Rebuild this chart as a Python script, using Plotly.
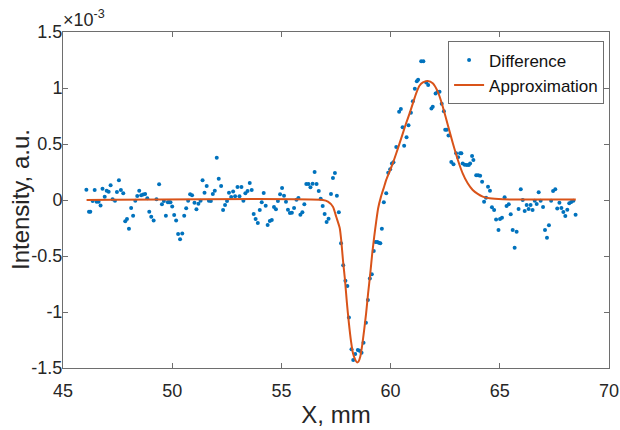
import plotly.graph_objects as go

# Measured difference signal (x in mm, intensity in units of 1e-3 a.u.)
diff_x = [46.07, 46.19, 46.25, 46.36, 46.45, 46.54, 46.63, 46.72, 46.81, 46.91,
          47.00, 47.09, 47.18, 47.27, 47.38, 47.47, 47.56, 47.65, 47.76, 47.85,
          47.93, 48.02, 48.12, 48.21, 48.31, 48.40, 48.49, 48.58, 48.67, 48.76,
          48.86, 48.95, 49.04, 49.15, 49.28, 49.40, 49.53, 49.62, 49.71, 49.80,
          49.86, 49.92, 50.00, 50.09, 50.18, 50.27, 50.36, 50.46, 50.55, 50.64,
          50.73, 50.82, 50.91, 51.02, 51.11, 51.20, 51.30, 51.39, 51.48, 51.58,
          51.68, 51.77, 51.86, 51.95, 52.04, 52.13, 52.24, 52.33, 52.42, 52.51,
          52.60, 52.70, 52.79, 52.88, 52.99, 53.08, 53.17, 53.26, 53.35, 53.45,
          53.55, 53.64, 53.73, 53.82, 53.92, 54.01, 54.10, 54.19, 54.28, 54.37,
          54.47, 54.56, 54.66, 54.75, 54.84, 54.94, 55.03, 55.12, 55.21, 55.30,
          55.39, 55.48, 55.58, 55.69, 55.78, 55.87, 55.96, 56.05, 56.14, 56.24,
          56.33, 56.43, 56.52, 56.61, 56.71, 56.80, 56.89, 56.98, 57.07, 57.16,
          57.27, 57.36, 57.45, 57.54, 57.63, 57.73, 57.83, 57.93, 58.02, 58.09,
          58.21, 58.29, 58.38, 58.50, 58.58, 58.67, 58.76, 58.87, 58.96, 59.05,
          59.14, 59.23, 59.31, 59.39, 59.46, 59.53, 59.60, 59.69, 59.80, 59.89,
          59.98, 60.06, 60.13, 60.26, 60.39, 60.47, 60.55, 60.62, 60.73, 60.82,
          60.93, 61.02, 61.11, 61.20, 61.26, 61.40, 61.50, 61.63, 61.72, 61.87,
          61.93, 62.06, 62.15, 62.24, 62.34, 62.44, 62.50, 62.57, 62.65, 62.78,
          62.88, 63.00, 63.09, 63.18, 63.24, 63.30, 63.39, 63.49, 63.58, 63.64,
          63.73, 63.79, 63.92, 64.01, 64.10, 64.19, 64.28, 64.37, 64.46, 64.55,
          64.64, 64.74, 64.83, 64.94, 65.01, 65.10, 65.22, 65.31, 65.41, 65.50,
          65.59, 65.68, 65.77, 65.86, 65.96, 66.05, 66.14, 66.23, 66.32, 66.41,
          66.50, 66.60, 66.69, 66.78, 66.87, 66.98, 67.07, 67.16, 67.25, 67.35,
          67.44, 67.54, 67.63, 67.73, 67.82, 67.91, 68.00, 68.09, 68.18, 68.27,
          68.37, 68.47]
diff_y = [0.092, -0.104, -0.104, -0.009, 0.089, -0.015, -0.015, -0.048, 0.101, 0.030,
          0.083, 0.074, 0.131, 0.006, -0.006, 0.071, 0.176, 0.089, 0.060, -0.190,
          -0.170, -0.256, -0.071, -0.140, -0.006, 0.036, 0.083, 0.042, 0.048, 0.054,
          0.015, -0.104, -0.149, -0.182, 0.006, 0.140, -0.038, -0.009, -0.140, -0.021,
          -0.021, -0.021, -0.057, -0.134, -0.182, -0.304, -0.351, -0.298, -0.140, -0.074,
          -0.006, 0.051, 0.042, -0.024, -0.083, -0.033, -0.006, 0.176, 0.065, 0.125,
          -0.006, -0.009, 0.054, 0.083, 0.378, 0.190, 0.125, -0.089, -0.045, -0.009,
          0.065, 0.027, 0.077, 0.033, 0.116, 0.033, 0.116, -0.006, 0.060, 0.080,
          0.152, 0.089, -0.125, -0.170, -0.205, -0.089, -0.021, 0.063, -0.051, -0.223,
          -0.188, -0.179, -0.063, -0.083, -0.009, 0.051, 0.107, 0.039, -0.015, -0.086,
          -0.116, -0.113, -0.071, 0.003, 0.018, -0.131, -0.110, -0.039, 0.143, 0.143,
          0.113, 0.146, 0.250, 0.143, 0.080, 0.012, -0.054, -0.125, -0.196, -0.167,
          0.054, 0.196, 0.241, 0.039, -0.110, -0.387, -0.583, -0.720, -0.768, -1.048,
          -1.333, -1.429, -1.375, -1.339, -1.345, -1.363, -1.274, -1.095, -0.893, -0.702,
          -0.664, -0.455, -0.375, -0.375, -0.381, -0.387, -0.256, -0.021, 0.060, 0.244,
          0.274, 0.327, 0.336, 0.473, 0.789, 0.813, 0.649, 0.485, 0.560, 0.667,
          0.780, 0.881, 0.994, 1.060, 1.074, 1.238, 1.238, 1.048, 1.027, 0.818,
          0.833, 0.952, 0.967, 0.967, 0.860, 0.792, 0.628, 0.628, 0.577, 0.340,
          0.320, 0.417, 0.381, 0.417, 0.417, 0.327, 0.315, 0.312, 0.312, 0.327,
          0.393, 0.357, 0.221, 0.221, 0.217, 0.164, -0.015, 0.021, 0.119, 0.083,
          -0.065, -0.089, -0.173, -0.268, -0.170, -0.158, 0.024, -0.054, -0.039, -0.128,
          -0.268, -0.426, -0.283, -0.080, 0.095, 0.000, -0.098, -0.045, -0.080, -0.045,
          -0.089, -0.006, -0.036, 0.069, -0.006, -0.063, -0.268, -0.336, -0.226, -0.006,
          0.080, 0.095, -0.077, -0.024, -0.071, -0.107, -0.143, -0.086, -0.030, -0.018,
          -0.006, -0.131]

# Approximation curve
approx_x = [46.08, 56.90, 57.13, 57.36, 57.51, 57.67, 57.74, 57.82, 57.91, 58.00,
            58.09, 58.19, 58.28, 58.38, 58.46, 58.53, 58.61, 58.70, 58.79, 58.88,
            58.97, 59.07, 59.16, 59.25, 59.34, 59.43, 59.56, 59.68, 59.80, 59.95,
            60.10, 60.26, 60.41, 60.56, 60.71, 60.87, 61.02, 61.17, 61.32, 61.48,
            61.70, 61.93, 62.16, 62.39, 62.62, 62.85, 63.08, 63.30, 63.53, 63.76,
            63.99, 64.22, 64.53, 65.13, 68.48]
approx_y = [0.0, 0.0, -0.015, -0.060, -0.150, -0.250, -0.360, -0.540, -0.710, -0.920,
            -1.100, -1.265, -1.370, -1.425, -1.450, -1.443, -1.400, -1.295, -1.160, -1.010,
            -0.833, -0.655, -0.476, -0.327, -0.193, -0.074, 0.030, 0.104, 0.179, 0.253,
            0.327, 0.417, 0.506, 0.595, 0.685, 0.774, 0.863, 0.952, 1.020, 1.050,
            1.063, 1.042, 0.967, 0.833, 0.670, 0.506, 0.357, 0.238, 0.149, 0.089,
            0.054, 0.030, 0.015, 0.006, 0.005]

x_ticks = [45, 50, 55, 60, 65, 70]
y_ticks = [-1.5, -1, -0.5, 0, 0.5, 1, 1.5]
y_tick_text = ["-1.5", "-1", "-0.5", "0", "0.5", "1", "1.5"]

FONT = "Liberation Sans, Arial, Helvetica, sans-serif"
AXIS_COLOR = "#6e6e6e"

fig = go.Figure()
fig.add_trace(go.Scatter(
    x=diff_x, y=diff_y, mode="markers", name="Difference",
    marker=dict(color="#0072BD", size=4),
))
fig.add_trace(go.Scatter(
    x=approx_x, y=approx_y, mode="lines", name="Approximation",
    line=dict(color="#D95319", width=2, shape="spline", smoothing=0.6),
))

axis_common = dict(
    showline=True, linecolor=AXIS_COLOR, linewidth=1, mirror="ticks",
    ticks="inside", ticklen=5, tickcolor=AXIS_COLOR, showgrid=False,
    zeroline=False, automargin=False, ticklabeloverflow="allow",
    tickfont=dict(family=FONT, size=18, color="#262626"),
)

fig.update_layout(
    width=620, height=430,
    margin=dict(l=63, r=11, t=32, b=62),
    paper_bgcolor="white", plot_bgcolor="white",
    font=dict(family=FONT, color="#262626"),
    showlegend=True,
    legend=dict(
        x=0.991, y=0.972, xanchor="right", yanchor="top",
        bgcolor="white", bordercolor=AXIS_COLOR, borderwidth=1,
        font=dict(family=FONT, size=17, color="#111"),
        itemwidth=30, tracegroupgap=0,
    ),
    xaxis=dict(range=[45, 70], tickvals=x_ticks, ticklabelstandoff=6,
               title=dict(text="X, mm", font=dict(family=FONT, size=24), standoff=6),
               **axis_common),
    yaxis=dict(range=[-1.5, 1.5], tickvals=y_ticks, ticktext=y_tick_text,
               ticklabelstandoff=-4, **axis_common),
    annotations=[
        dict(text="×10<sup>-3</sup>", xref="paper", yref="paper", x=0.0, y=1.0,
             xanchor="left", yanchor="bottom", showarrow=False, xshift=-2,
             font=dict(family=FONT, size=18, color="#262626")),
        dict(text="Intensity, a.u.", xref="paper", yref="paper",
             x=-0.0787, y=0.5, xanchor="center", yanchor="middle",
             textangle=-90, showarrow=False,
             font=dict(family=FONT, size=24, color="#262626")),
    ],
)

fig.write_html("out.html", post_script="document.body.style.margin='0';",
               config={"displayModeBar": False})
